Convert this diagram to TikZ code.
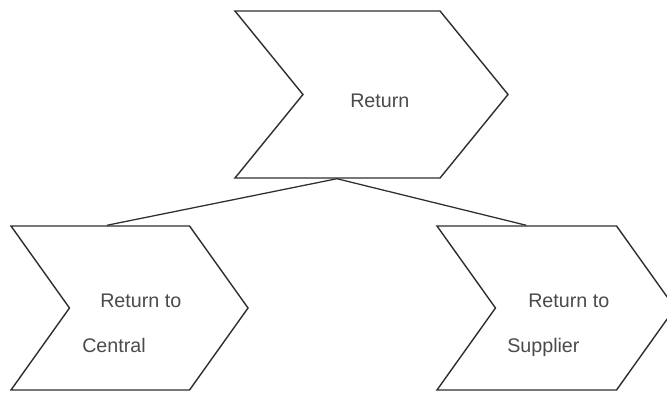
\documentclass[tikz,border=0pt]{standalone}
\usepackage{fontspec}
\setmainfont{Liberation Sans}
\usetikzlibrary{shapes.symbols, calc}
\definecolor{linegray}{HTML}{2E2E2E}
\definecolor{textgray}{HTML}{4A4A4A}

\begin{document}
\begin{tikzpicture}[x=0.025cm, y=-0.025cm]
    \tikzstyle{chevron} = [signal, signal from=west, signal to=east, draw=linegray, line width=1pt, inner sep=0pt, line join=miter]
    \tikzstyle{lbl} = [anchor=base west, inner sep=0pt, text=textgray, font=\fontsize{14}{16}\selectfont]
    \tikzstyle{link} = [draw=linegray, line width=0.9pt]

    \path[use as bounding box, clip] (0,0) rectangle (667,393);

    \node (ret) [chevron, minimum width=6.825cm, minimum height=4.175cm, signal pointer angle=101.7] at (371.5,94.5) {};
    \node (retcentral) [chevron, minimum width=5.925cm, minimum height=4.1cm, signal pointer angle=109] at (129.5,308) {};
    \node (retsupplier) [chevron, minimum width=5.95cm, minimum height=4.1cm, signal pointer angle=109] at (556,308) {};

    \node (retlbl) [lbl] at (350,108) {Return};
    \node (centrallbl1) [lbl] at (100,308) {Return to};
    \node (centrallbl2) [lbl] at (82,353) {Central};
    \node (supplierlbl1) [lbl] at (528,308) {Return to};
    \node (supplierlbl2) [lbl] at (507,353) {Supplier};

    \coordinate (apex) at ($(ret.south west)!0.5!(ret.south east)$);
    \draw [link] (apex) -- ($(retcentral.north west)!0.54!(retcentral.north east)$);
    \draw [link] (apex) -- ($(retsupplier.north west)!0.5!(retsupplier.north east)$);
\end{tikzpicture}
\end{document}
